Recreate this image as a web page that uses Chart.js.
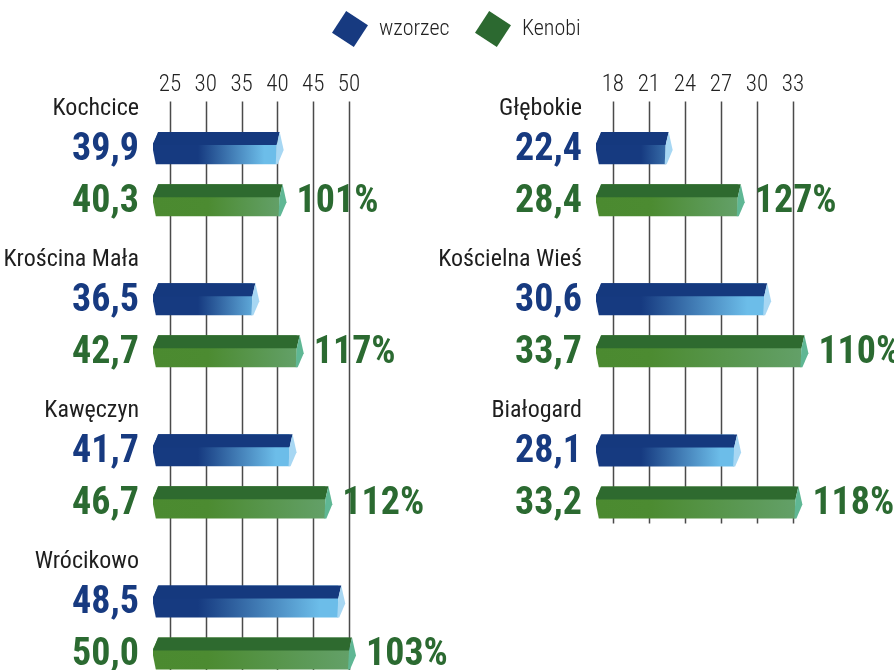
<!DOCTYPE html>
<html>
<head>
<meta charset="utf-8">
<script src="https://cdn.jsdelivr.net/npm/chart.js@4/dist/chart.umd.min.js"></script>
<style>
  html, body { margin: 0; padding: 0; background: #fff; }
  body { width: 894px; height: 670px; overflow: hidden; position: relative; }
  canvas { position: absolute; top: 0; }
  #left { left: 0; }
  #right { left: 440px; }
  .legend { position: absolute; top: 15px; font: 300 22px "Roboto Condensed", sans-serif; color: #222; }
  .sw { position: absolute; width: 26px; height: 26px; transform: rotate(33deg); }
</style>
</head>
<body>
<canvas id="left" width="460" height="703"></canvas>
<canvas id="right" width="454" height="552"></canvas>
<div class="sw" style="left:337px; top:16px; background:#173a80;"></div>
<div class="legend" style="left:379px;">wzorzec</div>
<div class="sw" style="left:480px; top:16px; background:#2c6930;"></div>
<div class="legend" style="left:522px;">Kenobi</div>
<script>
const leftCategories = ['Kochcice', 'Krościna Mała', 'Kawęczyn', 'Wrócikowo'];
const leftWzorzec = [39.9, 36.5, 41.7, 48.5];
const leftKenobi = [40.3, 42.7, 46.7, 50.0];
const leftPercent = [101, 117, 112, 103];
const leftTicks = [25, 30, 35, 40, 45, 50];

const rightCategories = ['Głębokie', 'Kościelna Wieś', 'Białogard'];
const rightWzorzec = [22.4, 30.6, 28.1];
const rightKenobi = [28.4, 33.7, 33.2];
const rightPercent = [127, 110, 118];
const rightTicks = [18, 21, 24, 27, 30, 33];

const FONT = '"Roboto Condensed", "Open Sans", sans-serif';
const BLUE = '#173a80';
const GREEN = '#2b6a31';

function blueFill(c) {
    const ch = c.chart;
    const area = ch.chartArea;
    if (!area) return '#163a80';
    const x0 = area.left;
    const x1 = ch.scales.x.getPixelForValue(c.raw);
    const len = Math.max(x1 - x0, 1);
    const span = Math.max(len * 0.9, 110);
    const g = ch.ctx.createLinearGradient(x0, 0, x0 + span, 0);
    g.addColorStop(0, '#163a80');
    g.addColorStop(Math.min(45 / span, 0.9), '#163a80');
    g.addColorStop(1, '#6cbde9');
    return g;
}

function greenFill(c) {
    const ch = c.chart;
    const area = ch.chartArea;
    if (!area) return '#4c8b31';
    const x0 = area.left;
    const x1 = ch.scales.x.getPixelForValue(c.raw);
    const len = Math.max(x1 - x0, 1);
    const g = ch.ctx.createLinearGradient(x0, 0, x1, 0);
    g.addColorStop(0, '#4b8a30');
    g.addColorStop(Math.min(55 / len, 0.6), '#4c8b31');
    g.addColorStop(1, '#63a068');
    return g;
}

const fmt = v => v.toFixed(1).replace('.', ',');

// gridlines, 3D faces of the bars and the text labels
const bar3d = {
    id: 'bar3d',
    beforeDatasetsDraw(chart) {
        const ctx = chart.ctx;
        const xs = chart.scales.x;
        const last = chart.getDatasetMeta(1).data;
        const lb = last[last.length - 1];
        const bottom = lb.y + lb.height / 2 + 5;
        ctx.save();
        ctx.strokeStyle = '#4a4a4a';
        ctx.lineWidth = 1.5;
        xs.ticks.forEach(t => {
            const x = Math.round(xs.getPixelForValue(t.value)) + 0.5;
            ctx.beginPath();
            ctx.moveTo(x, chart.chartArea.top + 3);
            ctx.lineTo(x, bottom);
            ctx.stroke();
        });
        ctx.restore();
    },
    afterDatasetsDraw(chart) {
        const ctx = chart.ctx;
        const tops = ['#15397e', '#2e6a2f'];
        const caps = ['#a7d7f3', '#5fb794'];
        ctx.save();
        [0, 1].forEach(i => {
            chart.getDatasetMeta(i).data.forEach(bar => {
                const p = bar.getProps(['x', 'y', 'base', 'height'], true);
                const top = p.y - p.height / 2;
                const bot = p.y + p.height / 2;
                const ft = top + 13;
                ctx.fillStyle = '#fff';
                ctx.beginPath();
                ctx.moveTo(p.base - 1, top - 1);
                ctx.lineTo(p.base + 6, top - 1);
                ctx.lineTo(p.base - 1, ft + 0.5);
                ctx.closePath();
                ctx.fill();
                ctx.beginPath();
                ctx.moveTo(p.base - 1, ft);
                ctx.lineTo(p.base + 3, bot + 1);
                ctx.lineTo(p.base - 1, bot + 1);
                ctx.closePath();
                ctx.fill();
                ctx.fillStyle = tops[i];
                ctx.beginPath();
                ctx.moveTo(p.base, ft);
                ctx.lineTo(p.base + 5, top);
                ctx.lineTo(p.x + 3, top);
                ctx.lineTo(p.x, ft);
                ctx.closePath();
                ctx.fill();
                ctx.fillStyle = caps[i];
                ctx.beginPath();
                ctx.moveTo(p.x, ft);
                ctx.lineTo(p.x + 3, top);
                ctx.lineTo(p.x + 7, ft + 5);
                ctx.lineTo(p.x + 1, bot);
                ctx.lineTo(p.x - 1, bot);
                ctx.closePath();
                ctx.fill();
            });
        });
        ctx.restore();
    },
    afterDraw(chart, args, opts) {
        const ctx = chart.ctx;
        const area = chart.chartArea;
        const blue = chart.getDatasetMeta(0).data;
        const green = chart.getDatasetMeta(1).data;
        const tx = area.left - 14;
        ctx.save();
        ctx.textBaseline = 'middle';
        chart.data.labels.forEach((name, j) => {
            ctx.textAlign = 'right';
            ctx.fillStyle = '#1e1e1e';
            ctx.font = '24px ' + FONT;
            ctx.fillText(name, tx, blue[j].y - 39);
            ctx.font = 'bold 38px ' + FONT;
            ctx.fillStyle = BLUE;
            ctx.fillText(fmt(chart.data.datasets[0].data[j]), tx, blue[j].y + 2);
            ctx.fillStyle = GREEN;
            ctx.fillText(fmt(chart.data.datasets[1].data[j]), tx, green[j].y + 2);
            ctx.textAlign = 'left';
            ctx.fillText(opts.percent[j] + '%', green[j].x + 17, green[j].y + 2);
        });
        ctx.restore();
    }
};

function makeChart(id, labels, wz, ke, pct, ticks, min, max, padLeft, padRight) {
    return new Chart(document.getElementById(id), {
        type: 'bar',
        data: {
            labels: labels,
            datasets: [
                { label: 'wzorzec', data: wz, base: min, backgroundColor: blueFill, borderWidth: 0, clip: false },
                { label: 'Kenobi', data: ke, base: min, backgroundColor: greenFill, borderWidth: 0, clip: false }
            ]
        },
        options: {
            indexAxis: 'y',
            responsive: false,
            animation: false,
            devicePixelRatio: 1,
            categoryPercentage: 0.689,
            barPercentage: 0.615,
            layout: { padding: { top: 71, left: padLeft, right: padRight, bottom: 0 } },
            scales: {
                x: {
                    type: 'linear',
                    position: 'top',
                    min: min,
                    max: max,
                    afterBuildTicks: s => { s.ticks = ticks.map(v => ({ value: v })); },
                    grid: { display: false, drawTicks: false },
                    border: { display: false },
                    ticks: { padding: 0, color: '#222', font: { size: 23, weight: '300', family: FONT } }
                },
                y: { display: false }
            },
            plugins: {
                legend: { display: false },
                tooltip: { enabled: false },
                bar3d: { percent: pct }
            }
        },
        plugins: [bar3d]
    });
}

makeChart('left', leftCategories, leftWzorzec, leftKenobi, leftPercent, leftTicks, 22.63, 50, 153, 111);
makeChart('right', rightCategories, rightWzorzec, rightKenobi, rightPercent, rightTicks, 16.6, 33, 156, 101);
</script>
</body>
</html>
